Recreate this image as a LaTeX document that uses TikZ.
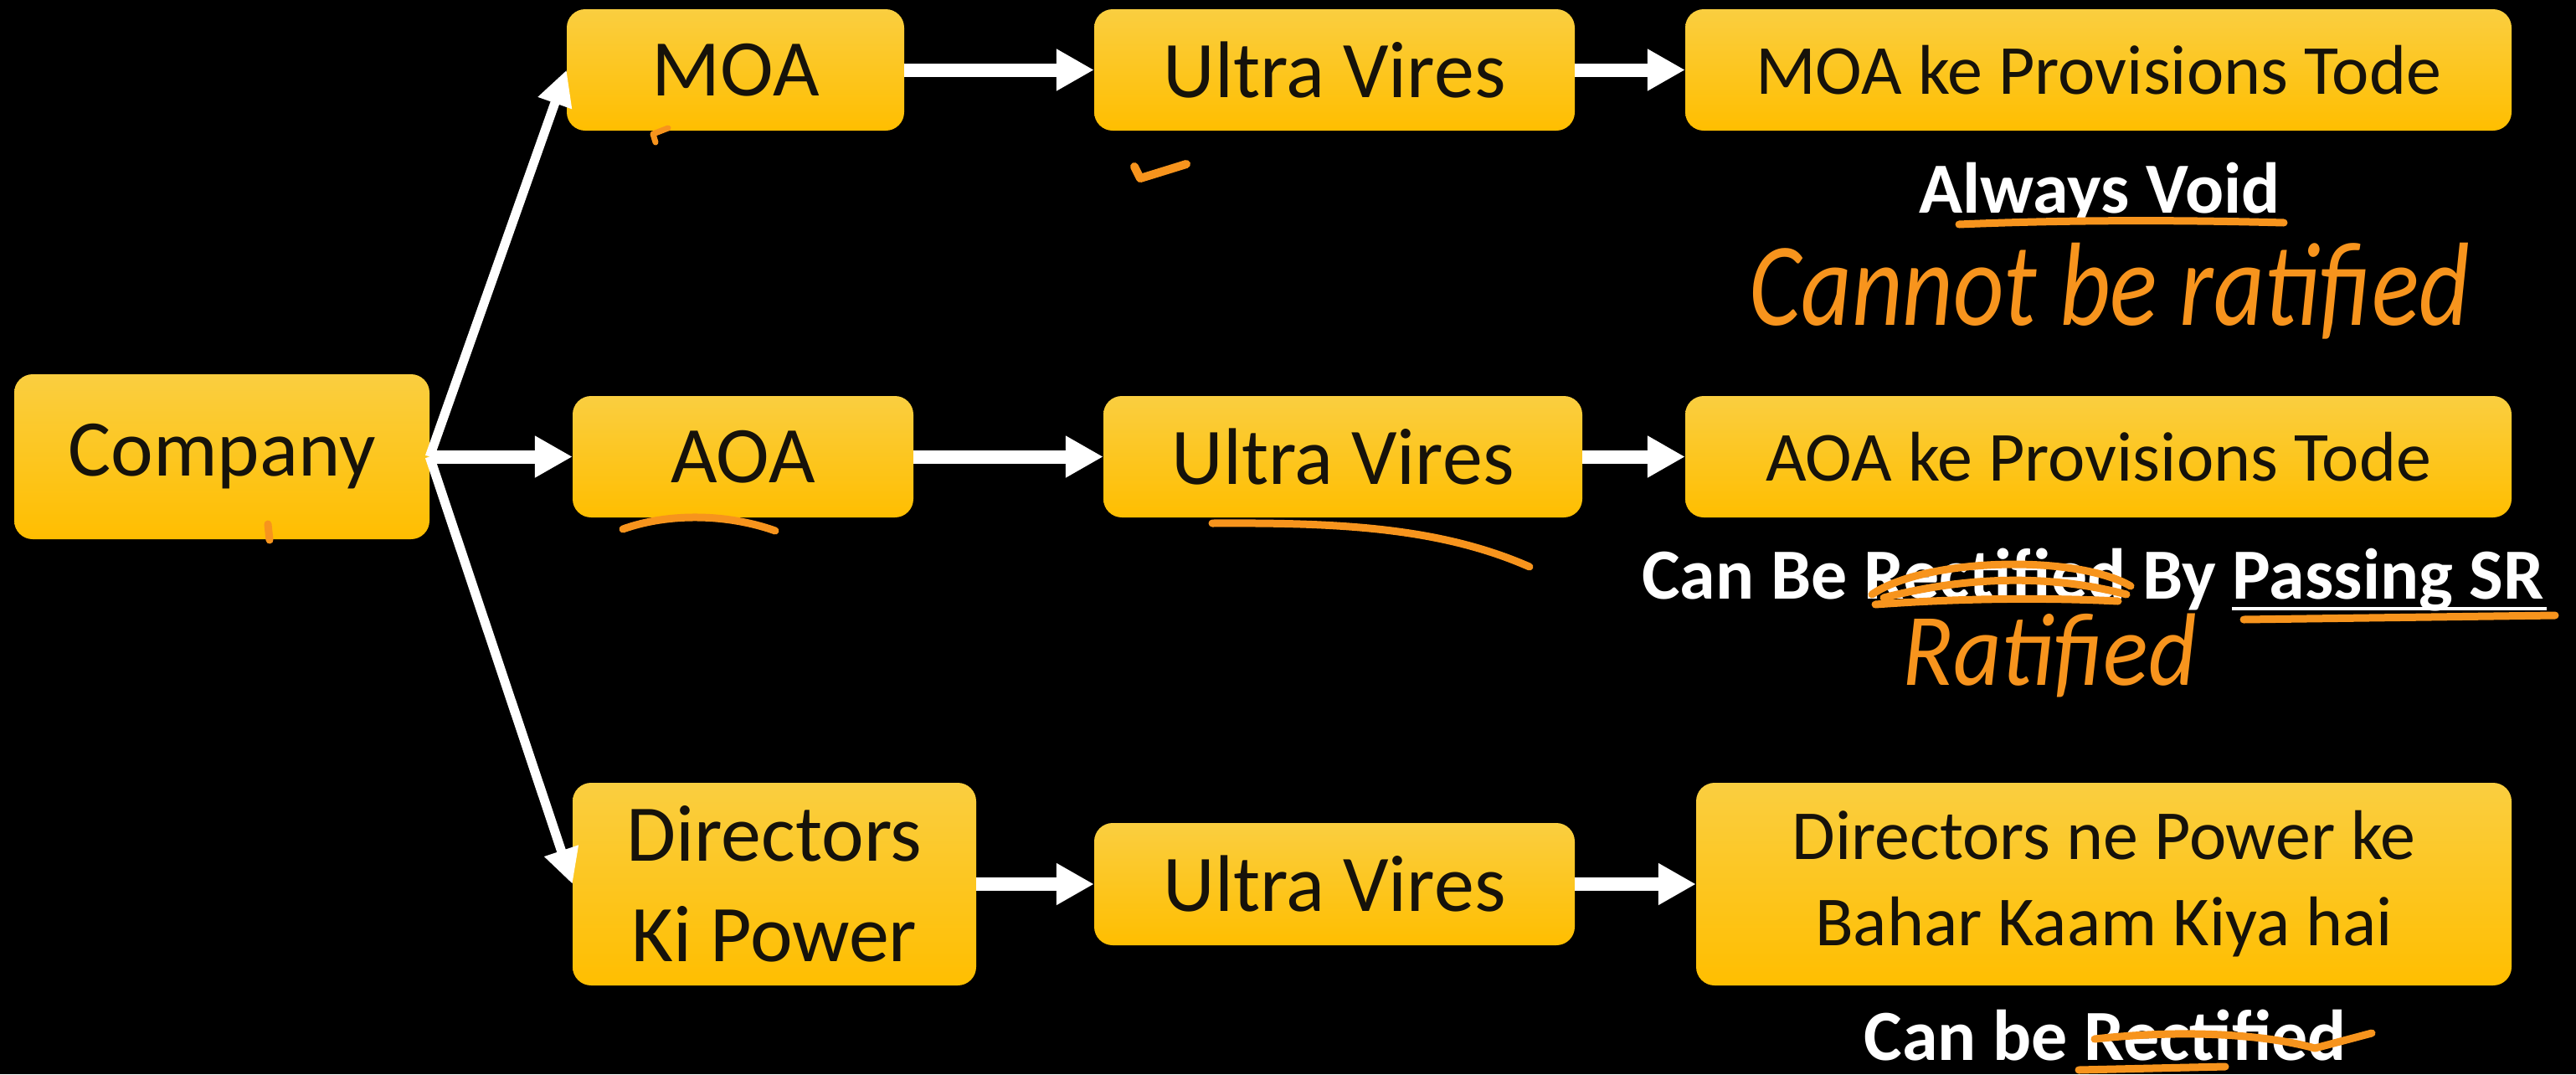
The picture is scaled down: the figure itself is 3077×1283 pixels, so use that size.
\documentclass[tikz,border=0pt]{standalone}
\usepackage{fontspec}
\setmainfont{Carlito}
\usetikzlibrary{arrows.meta}
\definecolor{boxtop}{RGB}{250,206,64}
\definecolor{boxbot}{RGB}{255,190,0}
\definecolor{hand}{RGB}{247,148,29}
\definecolor{boxtext}{RGB}{22,18,10}
\begin{document}
\begin{tikzpicture}[x=1pt,y=-1pt,
  box/.style={rectangle, rounded corners=22pt, top color=boxtop, bottom color=boxbot,
    draw=none, inner sep=0pt, align=center, text=boxtext},
  big/.style={font=\fontsize{96}{120}\selectfont},
  mid/.style={font=\fontsize{84}{103}\selectfont},
  harrow/.style={draw=white, line width=16pt, -{Triangle[length=45pt,width=47pt]}},
  darrow/.style={draw=white, line width=11pt, -{Triangle[length=42pt,width=40pt]}},
  wtext/.style={text=white, font=\fontsize{86}{100}\selectfont\bfseries, inner sep=0pt, anchor=base},
  handtxt/.style={text=hand, font=\fontsize{118}{130}\selectfont\itshape, inner sep=0pt, anchor=base},
  hw/.style={draw=hand, line width=9pt, line cap=round, line join=round}]
\fill[black] (0,0) rectangle (3077,1283);
\useasboundingbox (0,0) rectangle (3077,1283);

% boxes
\node[box,big,minimum width=496pt,minimum height=197pt] (company) at (265,545.5) {Company};
\node[box,big,minimum width=403pt,minimum height=145pt] (moa) at (878.5,83.5) {MOA};
\node[box,big,minimum width=407pt,minimum height=145pt] (aoa) at (887.5,545.5) {AOA};
\node[box,big,minimum width=482pt,minimum height=242pt] (dir) at (925,1056) {Directors\\Ki Power};
\node[box,big,minimum width=574pt,minimum height=145pt] (uv1) at (1594,83.5) {Ultra Vires};
\node[box,big,minimum width=572pt,minimum height=145pt] (uv2) at (1604,545.5) {Ultra Vires};
\node[box,big,minimum width=574pt,minimum height=146pt] (uv3) at (1594,1056) {Ultra Vires};
\node[box,mid,minimum width=987pt,minimum height=145pt] (moake) at (2506.5,83.5) {MOA ke Provisions Tode};
\node[box,mid,minimum width=987pt,minimum height=145pt] (aoake) at (2506.5,545.5) {AOA ke Provisions Tode};
\node[box,mid,minimum width=974pt,minimum height=242pt] (dirne) at (2513,1056) {Directors ne Power ke\\Bahar Kaam Kiya hai};

% connectors
\draw[darrow] (company.east) -- (moa.west);
\draw[harrow] (company.east) -- (aoa.west);
\draw[darrow] (company.east) -- (dir.west);
\draw[harrow] (moa.east) -- (uv1.west);
\draw[harrow] (uv1.east) -- (moake.west);
\draw[harrow] (aoa.east) -- (uv2.west);
\draw[harrow] (uv2.east) -- (aoake.west);
\draw[harrow] (dir.east) -- (uv3.west);
\draw[harrow] (uv3.east) -- (dirne.west);

% white notes
\node[wtext] (void) at (2508,254) {Always Void};
\node[wtext] (sr) at (2500,715) {Can Be Rectified By Passing SR};
\node[wtext] (canbe) at (2515,1266) {Can be Rectified};
\draw[white, line width=4pt] (2666,727) -- (3042,727);

% handwritten notes
\node[handtxt] (cannot) at (2520,388) {\scalebox{1}[1.2]{Cannot be ratified}};
\node[handtxt, font=\fontsize{112}{120}\selectfont\itshape] (ratif) at (2448,818) {\scalebox{1}[1.1]{Ratified}};

% handwritten strokes
\draw[hw] (2340,268) .. controls (2480,262) and (2620,263) .. (2728,266);
\draw[hw] (2236,710) .. controls (2300,666) and (2480,662) .. (2545,700);
\draw[hw] (2250,714) .. controls (2350,688) and (2450,686) .. (2540,710);
\draw[hw] (2240,722) .. controls (2350,714) and (2450,714) .. (2530,718);
\draw[hw] (2680,740) -- (3052,735);
\draw[hw] (1448,625) .. controls (1600,624) and (1720,630) .. (1827,677);
\draw[hw] (744,632) .. controls (800,612) and (870,614) .. (926,634);
\draw[hw, line width=7pt] (798,153) -- (780,160) -- (783,170);
\draw[hw] (320,626) -- (322,645);
\draw[hw, line width=10pt] (1355,199) -- (1362,213) -- (1417,196);
\draw[hw] (2502,1241) .. controls (2600,1230) and (2700,1234) .. (2765,1252) -- (2833,1234);
\draw[hw] (2483,1278) -- (2658,1274);
\end{tikzpicture}
\end{document}
